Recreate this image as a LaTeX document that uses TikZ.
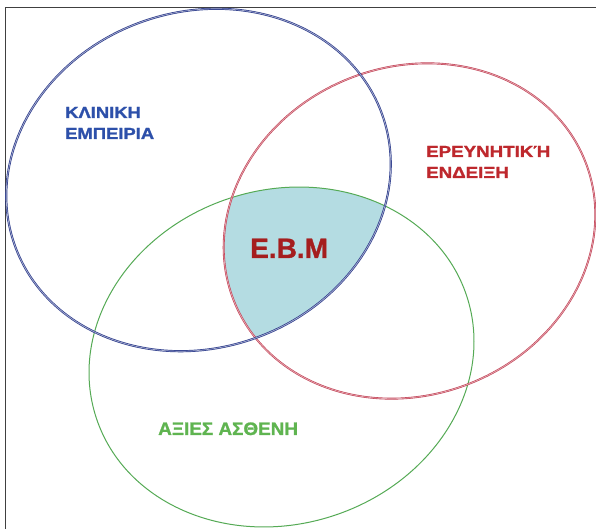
\documentclass[tikz,border=0pt]{standalone}
\usepackage{fontspec}
\setmainfont{Liberation Sans}[BoldFont={Liberation Sans Bold}]
\newfontfamily\heavyfont{Liberation Sans Bold}[FakeBold=1.2]
\definecolor{bluec}{RGB}{45,60,140}
\definecolor{bluetxt}{RGB}{45,80,170}
\definecolor{redc}{RGB}{195,65,85}
\definecolor{redtxt}{RGB}{190,40,45}
\definecolor{ebmtxt}{RGB}{165,30,30}
\definecolor{greenc}{RGB}{85,170,85}
\definecolor{greentxt}{RGB}{95,180,80}
\definecolor{ebmfill}{RGB}{180,220,226}
\begin{document}
\begin{tikzpicture}[x=1pt,y=1pt,
  lbl/.style={anchor=base west,inner sep=0pt},
  ring/.style={line width=0.7pt}]
\useasboundingbox (0,0) rectangle (596,529);
\fill[white] (0,0) rectangle (596,529);
% frame
\draw[line width=1pt,black!75] (5,-5) -- (5,521) -- (601,521);
% shaded triple intersection
\begin{scope}
\clip[rotate around={19.4:(198.5,349)}] (198.5,349) ellipse [x radius=195, y radius=168];
\clip[rotate around={21.7:(409.5,298)}] (409.5,298) ellipse [x radius=189, y radius=164];
\fill[ebmfill, rotate around={18.2:(281.5,172)}] (281.5,172) ellipse [x radius=195, y radius=167];
\end{scope}
% ellipses
\draw[line width=1pt,greenc, rotate around={18.2:(281.5,172)}] (281.5,172) ellipse [x radius=195, y radius=167];
\draw[redc,double=redc!45,double distance=0.7pt, line width=0.6pt, rotate around={21.7:(409.5,298)}] (409.5,298) ellipse [x radius=189, y radius=164];
\draw[bluec,double=bluec!40,double distance=0.7pt, line width=0.7pt, rotate around={19.4:(198.5,349)}] (198.5,349) ellipse [x radius=195, y radius=168];
% labels
\node[lbl,text=bluetxt,font=\heavyfont\fontsize{16}{16}\selectfont] (k1) at (65,411) {\scalebox{1.15}[1]{ΚΛΙΝΙΚΗ}};
\node[lbl,text=bluetxt,font=\heavyfont\fontsize{16}{16}\selectfont] (k2) at (65,390) {\scalebox{1.15}[1]{ΕΜΠΕΙΡΙΑ}};
\node[lbl,text=redtxt,font=\heavyfont\fontsize{16}{16}\selectfont] (r1) at (426,372) {\scalebox{1.17}[1]{ΕΡΕΥΝΗΤΙΚΉ}};
\node[lbl,text=redtxt,font=\heavyfont\fontsize{16}{16}\selectfont] (r2) at (426,351) {\scalebox{1.17}[1]{ΕΝΔΕΙΞΗ}};
\node[lbl,text=ebmtxt,font=\heavyfont\fontsize{28}{28}\selectfont] (ebm) at (250,271) {Ε.Β.Μ};
\node[lbl,text=greentxt,font=\heavyfont\fontsize{18}{18}\selectfont] (ax) at (158,94) {\scalebox{1.05}[1]{ΑΞΙΕΣ ΑΣΘΕΝΗ}};
\end{tikzpicture}
\end{document}
